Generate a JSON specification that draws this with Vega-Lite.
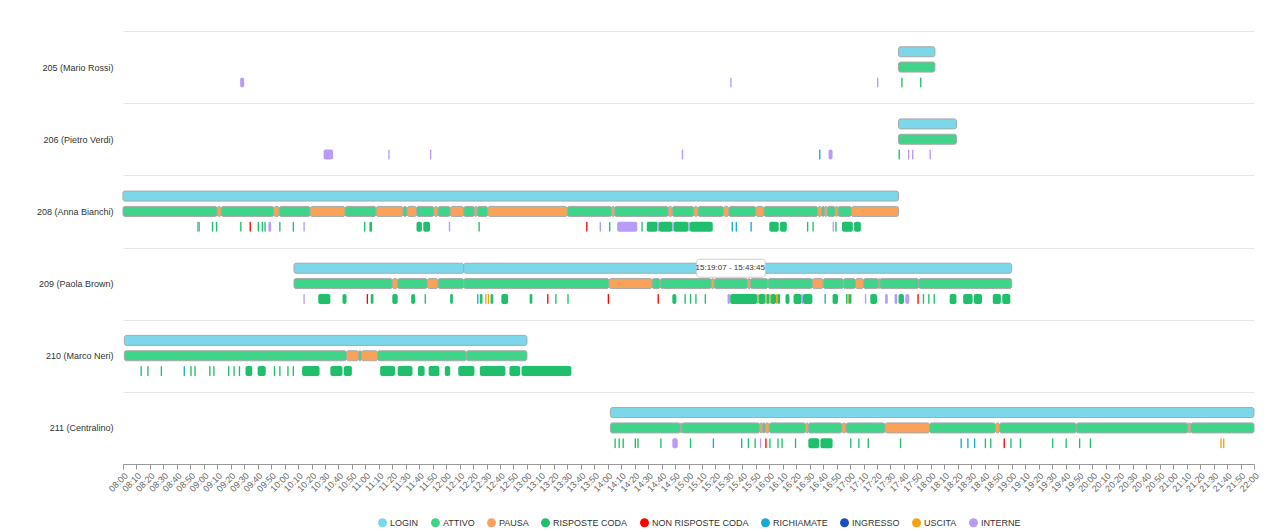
{
  "$schema": "https://vega.github.io/schema/vega-lite/v6.json",
  "autosize": "none",
  "width": 1131,
  "height": 433,
  "padding": {"left": 123, "top": 31, "right": 33, "bottom": 68},
  "background": "white",
  "config": {"font": "Liberation Sans", "view": {"stroke": null}},
  "datasets": {
    "timeline": [
      {"a":"205","l":"login","c":"LOGIN","s":"17:36","e":"18:03"},
      {"a":"205","l":"stato","c":"ATTIVO","s":"17:36","e":"18:03"},
      {"a":"205","l":"eventi","c":"INTERNE","s":"09:27","e":"09:30"},
      {"a":"205","l":"eventi","c":"INTERNE","s":"15:31","e":"15:32"},
      {"a":"205","l":"eventi","c":"INTERNE","s":"17:20","e":"17:21"},
      {"a":"205","l":"eventi","c":"RISPOSTE CODA","s":"17:38","e":"17:39"},
      {"a":"205","l":"eventi","c":"RISPOSTE CODA","s":"17:52","e":"17:53"},
      {"a":"206","l":"login","c":"LOGIN","s":"17:36","e":"18:19"},
      {"a":"206","l":"stato","c":"ATTIVO","s":"17:36","e":"18:19"},
      {"a":"206","l":"eventi","c":"INTERNE","s":"10:29","e":"10:36"},
      {"a":"206","l":"eventi","c":"INTERNE","s":"11:17","e":"11:18"},
      {"a":"206","l":"eventi","c":"INTERNE","s":"11:48","e":"11:49"},
      {"a":"206","l":"eventi","c":"INTERNE","s":"14:55","e":"14:56"},
      {"a":"206","l":"eventi","c":"RICHIAMATE","s":"16:37","e":"16:38"},
      {"a":"206","l":"eventi","c":"INTERNE","s":"16:44","e":"16:47"},
      {"a":"206","l":"eventi","c":"RISPOSTE CODA","s":"17:36","e":"17:37"},
      {"a":"206","l":"eventi","c":"INTERNE","s":"17:43","e":"17:44"},
      {"a":"206","l":"eventi","c":"INTERNE","s":"17:46","e":"17:47"},
      {"a":"206","l":"eventi","c":"INTERNE","s":"17:59","e":"18:00"},
      {"a":"208","l":"login","c":"LOGIN","s":"08:00","e":"17:36"},
      {"a":"208","l":"stato","c":"ATTIVO","s":"08:00","e":"09:10"},
      {"a":"208","l":"stato","c":"PAUSA","s":"09:10","e":"09:13"},
      {"a":"208","l":"stato","c":"ATTIVO","s":"09:13","e":"09:52"},
      {"a":"208","l":"stato","c":"PAUSA","s":"09:52","e":"09:56"},
      {"a":"208","l":"stato","c":"ATTIVO","s":"09:56","e":"10:19"},
      {"a":"208","l":"stato","c":"PAUSA","s":"10:19","e":"10:45"},
      {"a":"208","l":"stato","c":"ATTIVO","s":"10:45","e":"11:08"},
      {"a":"208","l":"stato","c":"PAUSA","s":"11:08","e":"11:28"},
      {"a":"208","l":"stato","c":"ATTIVO","s":"11:28","e":"11:31"},
      {"a":"208","l":"stato","c":"PAUSA","s":"11:31","e":"11:38"},
      {"a":"208","l":"stato","c":"ATTIVO","s":"11:38","e":"11:51"},
      {"a":"208","l":"stato","c":"PAUSA","s":"11:51","e":"11:54"},
      {"a":"208","l":"stato","c":"ATTIVO","s":"11:54","e":"12:03"},
      {"a":"208","l":"stato","c":"PAUSA","s":"12:03","e":"12:13"},
      {"a":"208","l":"stato","c":"ATTIVO","s":"12:13","e":"12:21"},
      {"a":"208","l":"stato","c":"PAUSA","s":"12:21","e":"12:23"},
      {"a":"208","l":"stato","c":"ATTIVO","s":"12:23","e":"12:31"},
      {"a":"208","l":"stato","c":"PAUSA","s":"12:31","e":"13:30"},
      {"a":"208","l":"stato","c":"ATTIVO","s":"13:30","e":"14:03"},
      {"a":"208","l":"stato","c":"PAUSA","s":"14:03","e":"14:05"},
      {"a":"208","l":"stato","c":"ATTIVO","s":"14:05","e":"14:45"},
      {"a":"208","l":"stato","c":"PAUSA","s":"14:45","e":"14:48"},
      {"a":"208","l":"stato","c":"ATTIVO","s":"14:48","e":"15:04"},
      {"a":"208","l":"stato","c":"PAUSA","s":"15:04","e":"15:07"},
      {"a":"208","l":"stato","c":"ATTIVO","s":"15:07","e":"15:26"},
      {"a":"208","l":"stato","c":"PAUSA","s":"15:26","e":"15:30"},
      {"a":"208","l":"stato","c":"ATTIVO","s":"15:30","e":"15:50"},
      {"a":"208","l":"stato","c":"PAUSA","s":"15:50","e":"15:56"},
      {"a":"208","l":"stato","c":"ATTIVO","s":"15:56","e":"16:36"},
      {"a":"208","l":"stato","c":"PAUSA","s":"16:36","e":"16:39"},
      {"a":"208","l":"stato","c":"ATTIVO","s":"16:39","e":"16:41"},
      {"a":"208","l":"stato","c":"PAUSA","s":"16:41","e":"16:43"},
      {"a":"208","l":"stato","c":"ATTIVO","s":"16:43","e":"16:49"},
      {"a":"208","l":"stato","c":"PAUSA","s":"16:49","e":"16:51"},
      {"a":"208","l":"stato","c":"ATTIVO","s":"16:51","e":"17:01"},
      {"a":"208","l":"stato","c":"PAUSA","s":"17:01","e":"17:36"},
      {"a":"208","l":"eventi","c":"INTERNE","s":"08:55","e":"08:56"},
      {"a":"208","l":"eventi","c":"RISPOSTE CODA","s":"08:56","e":"08:57"},
      {"a":"208","l":"eventi","c":"RISPOSTE CODA","s":"09:06","e":"09:07"},
      {"a":"208","l":"eventi","c":"RISPOSTE CODA","s":"09:09","e":"09:10"},
      {"a":"208","l":"eventi","c":"RISPOSTE CODA","s":"09:27","e":"09:28"},
      {"a":"208","l":"eventi","c":"NON RISPOSTE CODA","s":"09:34","e":"09:35"},
      {"a":"208","l":"eventi","c":"RISPOSTE CODA","s":"09:40","e":"09:41"},
      {"a":"208","l":"eventi","c":"RISPOSTE CODA","s":"09:43","e":"09:44"},
      {"a":"208","l":"eventi","c":"RISPOSTE CODA","s":"09:45","e":"09:46"},
      {"a":"208","l":"eventi","c":"INTERNE","s":"09:48","e":"09:50"},
      {"a":"208","l":"eventi","c":"RISPOSTE CODA","s":"09:56","e":"09:57"},
      {"a":"208","l":"eventi","c":"RISPOSTE CODA","s":"10:06","e":"10:07"},
      {"a":"208","l":"eventi","c":"INTERNE","s":"10:14","e":"10:15"},
      {"a":"208","l":"eventi","c":"RISPOSTE CODA","s":"10:59","e":"11:00"},
      {"a":"208","l":"eventi","c":"RISPOSTE CODA","s":"11:03","e":"11:05"},
      {"a":"208","l":"eventi","c":"RISPOSTE CODA","s":"11:38","e":"11:42"},
      {"a":"208","l":"eventi","c":"RISPOSTE CODA","s":"11:43","e":"11:48"},
      {"a":"208","l":"eventi","c":"INTERNE","s":"12:02","e":"12:03"},
      {"a":"208","l":"eventi","c":"RISPOSTE CODA","s":"12:24","e":"12:25"},
      {"a":"208","l":"eventi","c":"NON RISPOSTE CODA","s":"13:44","e":"13:45"},
      {"a":"208","l":"eventi","c":"INTERNE","s":"13:54","e":"13:55"},
      {"a":"208","l":"eventi","c":"RISPOSTE CODA","s":"14:01","e":"14:02"},
      {"a":"208","l":"eventi","c":"INTERNE","s":"14:07","e":"14:22"},
      {"a":"208","l":"eventi","c":"RISPOSTE CODA","s":"14:25","e":"14:26"},
      {"a":"208","l":"eventi","c":"RISPOSTE CODA","s":"14:29","e":"14:37"},
      {"a":"208","l":"eventi","c":"INTERNE","s":"14:37","e":"14:38"},
      {"a":"208","l":"eventi","c":"RISPOSTE CODA","s":"14:38","e":"14:48"},
      {"a":"208","l":"eventi","c":"INTERNE","s":"14:48","e":"14:49"},
      {"a":"208","l":"eventi","c":"RISPOSTE CODA","s":"14:49","e":"15:00"},
      {"a":"208","l":"eventi","c":"INTERNE","s":"15:00","e":"15:01"},
      {"a":"208","l":"eventi","c":"RISPOSTE CODA","s":"15:01","e":"15:18"},
      {"a":"208","l":"eventi","c":"RICHIAMATE","s":"15:32","e":"15:33"},
      {"a":"208","l":"eventi","c":"RICHIAMATE","s":"15:35","e":"15:36"},
      {"a":"208","l":"eventi","c":"RICHIAMATE","s":"15:46","e":"15:47"},
      {"a":"208","l":"eventi","c":"RISPOSTE CODA","s":"16:00","e":"16:07"},
      {"a":"208","l":"eventi","c":"RISPOSTE CODA","s":"16:08","e":"16:13"},
      {"a":"208","l":"eventi","c":"RISPOSTE CODA","s":"16:28","e":"16:29"},
      {"a":"208","l":"eventi","c":"RISPOSTE CODA","s":"16:32","e":"16:33"},
      {"a":"208","l":"eventi","c":"INTERNE","s":"16:47","e":"16:48"},
      {"a":"208","l":"eventi","c":"RISPOSTE CODA","s":"16:49","e":"16:50"},
      {"a":"208","l":"eventi","c":"RISPOSTE CODA","s":"16:54","e":"17:02"},
      {"a":"208","l":"eventi","c":"RISPOSTE CODA","s":"17:03","e":"17:08"},
      {"a":"209","l":"login","c":"LOGIN","s":"10:07","e":"12:13"},
      {"a":"209","l":"login","c":"LOGIN","s":"12:13","e":"19:00"},
      {"a":"209","l":"stato","c":"ATTIVO","s":"10:07","e":"11:20"},
      {"a":"209","l":"stato","c":"PAUSA","s":"11:20","e":"11:24"},
      {"a":"209","l":"stato","c":"ATTIVO","s":"11:24","e":"11:46"},
      {"a":"209","l":"stato","c":"PAUSA","s":"11:46","e":"11:54"},
      {"a":"209","l":"stato","c":"ATTIVO","s":"11:54","e":"12:13"},
      {"a":"209","l":"stato","c":"ATTIVO","s":"12:13","e":"14:01"},
      {"a":"209","l":"stato","c":"PAUSA","s":"14:01","e":"14:33"},
      {"a":"209","l":"stato","c":"ATTIVO","s":"14:33","e":"14:39"},
      {"a":"209","l":"stato","c":"ATTIVO","s":"14:39","e":"15:17"},
      {"a":"209","l":"stato","c":"PAUSA","s":"15:17","e":"15:19"},
      {"a":"209","l":"stato","c":"ATTIVO","s":"15:19","e":"15:44"},
      {"a":"209","l":"stato","c":"PAUSA","s":"15:44","e":"15:46"},
      {"a":"209","l":"stato","c":"ATTIVO","s":"15:46","e":"15:59"},
      {"a":"209","l":"stato","c":"ATTIVO","s":"15:59","e":"16:32"},
      {"a":"209","l":"stato","c":"PAUSA","s":"16:32","e":"16:40"},
      {"a":"209","l":"stato","c":"ATTIVO","s":"16:40","e":"16:55"},
      {"a":"209","l":"stato","c":"ATTIVO","s":"16:55","e":"17:04"},
      {"a":"209","l":"stato","c":"PAUSA","s":"17:04","e":"17:10"},
      {"a":"209","l":"stato","c":"ATTIVO","s":"17:10","e":"17:21"},
      {"a":"209","l":"stato","c":"PAUSA","s":"17:21","e":"17:22"},
      {"a":"209","l":"stato","c":"ATTIVO","s":"17:22","e":"17:51"},
      {"a":"209","l":"stato","c":"ATTIVO","s":"17:51","e":"19:00"},
      {"a":"209","l":"eventi","c":"INTERNE","s":"10:14","e":"10:15"},
      {"a":"209","l":"eventi","c":"RISPOSTE CODA","s":"10:25","e":"10:34"},
      {"a":"209","l":"eventi","c":"RISPOSTE CODA","s":"10:43","e":"10:46"},
      {"a":"209","l":"eventi","c":"NON RISPOSTE CODA","s":"11:01","e":"11:02"},
      {"a":"209","l":"eventi","c":"RISPOSTE CODA","s":"11:04","e":"11:06"},
      {"a":"209","l":"eventi","c":"RISPOSTE CODA","s":"11:20","e":"11:24"},
      {"a":"209","l":"eventi","c":"RISPOSTE CODA","s":"11:34","e":"11:37"},
      {"a":"209","l":"eventi","c":"RISPOSTE CODA","s":"11:44","e":"11:45"},
      {"a":"209","l":"eventi","c":"RISPOSTE CODA","s":"12:03","e":"12:05"},
      {"a":"209","l":"eventi","c":"RICHIAMATE","s":"12:23","e":"12:24"},
      {"a":"209","l":"eventi","c":"RISPOSTE CODA","s":"12:25","e":"12:27"},
      {"a":"209","l":"eventi","c":"USCITA","s":"12:29","e":"12:30"},
      {"a":"209","l":"eventi","c":"USCITA","s":"12:31","e":"12:32"},
      {"a":"209","l":"eventi","c":"RISPOSTE CODA","s":"12:33","e":"12:35"},
      {"a":"209","l":"eventi","c":"RISPOSTE CODA","s":"12:41","e":"12:46"},
      {"a":"209","l":"eventi","c":"RISPOSTE CODA","s":"13:02","e":"13:04"},
      {"a":"209","l":"eventi","c":"NON RISPOSTE CODA","s":"13:15","e":"13:16"},
      {"a":"209","l":"eventi","c":"RISPOSTE CODA","s":"13:21","e":"13:22"},
      {"a":"209","l":"eventi","c":"RISPOSTE CODA","s":"13:30","e":"13:31"},
      {"a":"209","l":"eventi","c":"NON RISPOSTE CODA","s":"14:00","e":"14:01"},
      {"a":"209","l":"eventi","c":"NON RISPOSTE CODA","s":"14:37","e":"14:38"},
      {"a":"209","l":"eventi","c":"RISPOSTE CODA","s":"14:48","e":"14:51"},
      {"a":"209","l":"eventi","c":"RISPOSTE CODA","s":"14:57","e":"14:58"},
      {"a":"209","l":"eventi","c":"RISPOSTE CODA","s":"15:01","e":"15:02"},
      {"a":"209","l":"eventi","c":"RISPOSTE CODA","s":"15:05","e":"15:06"},
      {"a":"209","l":"eventi","c":"RISPOSTE CODA","s":"15:12","e":"15:13"},
      {"a":"209","l":"eventi","c":"INTERNE","s":"15:29","e":"15:31"},
      {"a":"209","l":"eventi","c":"RISPOSTE CODA","s":"15:31","e":"15:51"},
      {"a":"209","l":"eventi","c":"USCITA","s":"15:51","e":"15:52"},
      {"a":"209","l":"eventi","c":"RISPOSTE CODA","s":"15:52","e":"15:57"},
      {"a":"209","l":"eventi","c":"USCITA","s":"15:57","e":"15:58"},
      {"a":"209","l":"eventi","c":"RISPOSTE CODA","s":"15:58","e":"16:00"},
      {"a":"209","l":"eventi","c":"USCITA","s":"16:00","e":"16:01"},
      {"a":"209","l":"eventi","c":"RISPOSTE CODA","s":"16:01","e":"16:05"},
      {"a":"209","l":"eventi","c":"USCITA","s":"16:05","e":"16:06"},
      {"a":"209","l":"eventi","c":"RISPOSTE CODA","s":"16:06","e":"16:08"},
      {"a":"209","l":"eventi","c":"RISPOSTE CODA","s":"16:12","e":"16:15"},
      {"a":"209","l":"eventi","c":"RISPOSTE CODA","s":"16:18","e":"16:24"},
      {"a":"209","l":"eventi","c":"INTERNE","s":"16:24","e":"16:25"},
      {"a":"209","l":"eventi","c":"RISPOSTE CODA","s":"16:25","e":"16:32"},
      {"a":"209","l":"eventi","c":"RICHIAMATE","s":"16:41","e":"16:42"},
      {"a":"209","l":"eventi","c":"RISPOSTE CODA","s":"16:47","e":"16:51"},
      {"a":"209","l":"eventi","c":"RISPOSTE CODA","s":"16:57","e":"16:58"},
      {"a":"209","l":"eventi","c":"USCITA","s":"16:58","e":"16:59"},
      {"a":"209","l":"eventi","c":"RISPOSTE CODA","s":"16:59","e":"17:01"},
      {"a":"209","l":"eventi","c":"INTERNE","s":"17:11","e":"17:12"},
      {"a":"209","l":"eventi","c":"RISPOSTE CODA","s":"17:15","e":"17:20"},
      {"a":"209","l":"eventi","c":"INTERNE","s":"17:26","e":"17:28"},
      {"a":"209","l":"eventi","c":"INTERNE","s":"17:33","e":"17:35"},
      {"a":"209","l":"eventi","c":"RISPOSTE CODA","s":"17:36","e":"17:40"},
      {"a":"209","l":"eventi","c":"INTERNE","s":"17:41","e":"17:44"},
      {"a":"209","l":"eventi","c":"NON RISPOSTE CODA","s":"17:50","e":"17:51"},
      {"a":"209","l":"eventi","c":"RISPOSTE CODA","s":"17:54","e":"17:55"},
      {"a":"209","l":"eventi","c":"RISPOSTE CODA","s":"17:58","e":"17:59"},
      {"a":"209","l":"eventi","c":"RISPOSTE CODA","s":"18:02","e":"18:03"},
      {"a":"209","l":"eventi","c":"RISPOSTE CODA","s":"18:14","e":"18:19"},
      {"a":"209","l":"eventi","c":"RISPOSTE CODA","s":"18:24","e":"18:31"},
      {"a":"209","l":"eventi","c":"RISPOSTE CODA","s":"18:32","e":"18:38"},
      {"a":"209","l":"eventi","c":"RISPOSTE CODA","s":"18:46","e":"18:52"},
      {"a":"209","l":"eventi","c":"RISPOSTE CODA","s":"18:53","e":"18:59"},
      {"a":"210","l":"login","c":"LOGIN","s":"08:01","e":"13:00"},
      {"a":"210","l":"stato","c":"ATTIVO","s":"08:01","e":"10:46"},
      {"a":"210","l":"stato","c":"PAUSA","s":"10:46","e":"10:55"},
      {"a":"210","l":"stato","c":"ATTIVO","s":"10:55","e":"10:57"},
      {"a":"210","l":"stato","c":"PAUSA","s":"10:57","e":"11:09"},
      {"a":"210","l":"stato","c":"ATTIVO","s":"11:09","e":"12:15"},
      {"a":"210","l":"stato","c":"ATTIVO","s":"12:15","e":"13:00"},
      {"a":"210","l":"eventi","c":"RISPOSTE CODA","s":"08:13","e":"08:14"},
      {"a":"210","l":"eventi","c":"RISPOSTE CODA","s":"08:18","e":"08:19"},
      {"a":"210","l":"eventi","c":"RISPOSTE CODA","s":"08:28","e":"08:29"},
      {"a":"210","l":"eventi","c":"RICHIAMATE","s":"08:45","e":"08:46"},
      {"a":"210","l":"eventi","c":"RISPOSTE CODA","s":"08:50","e":"08:51"},
      {"a":"210","l":"eventi","c":"RISPOSTE CODA","s":"08:53","e":"08:54"},
      {"a":"210","l":"eventi","c":"RISPOSTE CODA","s":"09:04","e":"09:05"},
      {"a":"210","l":"eventi","c":"RISPOSTE CODA","s":"09:07","e":"09:08"},
      {"a":"210","l":"eventi","c":"RISPOSTE CODA","s":"09:18","e":"09:19"},
      {"a":"210","l":"eventi","c":"RISPOSTE CODA","s":"09:22","e":"09:23"},
      {"a":"210","l":"eventi","c":"RISPOSTE CODA","s":"09:26","e":"09:27"},
      {"a":"210","l":"eventi","c":"RISPOSTE CODA","s":"09:31","e":"09:36"},
      {"a":"210","l":"eventi","c":"RISPOSTE CODA","s":"09:40","e":"09:46"},
      {"a":"210","l":"eventi","c":"RISPOSTE CODA","s":"09:52","e":"09:53"},
      {"a":"210","l":"eventi","c":"RISPOSTE CODA","s":"09:56","e":"09:57"},
      {"a":"210","l":"eventi","c":"RISPOSTE CODA","s":"10:02","e":"10:03"},
      {"a":"210","l":"eventi","c":"RISPOSTE CODA","s":"10:06","e":"10:07"},
      {"a":"210","l":"eventi","c":"RISPOSTE CODA","s":"10:13","e":"10:26"},
      {"a":"210","l":"eventi","c":"RISPOSTE CODA","s":"10:34","e":"10:43"},
      {"a":"210","l":"eventi","c":"RISPOSTE CODA","s":"10:44","e":"10:50"},
      {"a":"210","l":"eventi","c":"RISPOSTE CODA","s":"11:11","e":"11:22"},
      {"a":"210","l":"eventi","c":"RISPOSTE CODA","s":"11:24","e":"11:35"},
      {"a":"210","l":"eventi","c":"RISPOSTE CODA","s":"11:39","e":"11:44"},
      {"a":"210","l":"eventi","c":"RISPOSTE CODA","s":"11:47","e":"11:55"},
      {"a":"210","l":"eventi","c":"RISPOSTE CODA","s":"11:59","e":"12:03"},
      {"a":"210","l":"eventi","c":"RISPOSTE CODA","s":"12:09","e":"12:21"},
      {"a":"210","l":"eventi","c":"RISPOSTE CODA","s":"12:25","e":"12:44"},
      {"a":"210","l":"eventi","c":"RISPOSTE CODA","s":"12:47","e":"12:55"},
      {"a":"210","l":"eventi","c":"RISPOSTE CODA","s":"12:56","e":"13:33"},
      {"a":"211","l":"login","c":"LOGIN","s":"14:02","e":"22:00"},
      {"a":"211","l":"stato","c":"ATTIVO","s":"14:02","e":"14:54"},
      {"a":"211","l":"stato","c":"PAUSA","s":"14:54","e":"14:55"},
      {"a":"211","l":"stato","c":"ATTIVO","s":"14:55","e":"15:53"},
      {"a":"211","l":"stato","c":"PAUSA","s":"15:53","e":"15:55"},
      {"a":"211","l":"stato","c":"ATTIVO","s":"15:55","e":"15:57"},
      {"a":"211","l":"stato","c":"PAUSA","s":"15:57","e":"16:00"},
      {"a":"211","l":"stato","c":"ATTIVO","s":"16:00","e":"16:27"},
      {"a":"211","l":"stato","c":"PAUSA","s":"16:27","e":"16:29"},
      {"a":"211","l":"stato","c":"ATTIVO","s":"16:29","e":"16:54"},
      {"a":"211","l":"stato","c":"PAUSA","s":"16:54","e":"16:57"},
      {"a":"211","l":"stato","c":"ATTIVO","s":"16:57","e":"17:26"},
      {"a":"211","l":"stato","c":"PAUSA","s":"17:26","e":"17:59"},
      {"a":"211","l":"stato","c":"ATTIVO","s":"17:59","e":"18:48"},
      {"a":"211","l":"stato","c":"PAUSA","s":"18:48","e":"18:51"},
      {"a":"211","l":"stato","c":"ATTIVO","s":"18:51","e":"19:48"},
      {"a":"211","l":"stato","c":"ATTIVO","s":"19:48","e":"21:11"},
      {"a":"211","l":"stato","c":"PAUSA","s":"21:11","e":"21:13"},
      {"a":"211","l":"stato","c":"ATTIVO","s":"21:13","e":"22:00"},
      {"a":"211","l":"eventi","c":"RISPOSTE CODA","s":"14:05","e":"14:06"},
      {"a":"211","l":"eventi","c":"RISPOSTE CODA","s":"14:08","e":"14:09"},
      {"a":"211","l":"eventi","c":"RISPOSTE CODA","s":"14:11","e":"14:12"},
      {"a":"211","l":"eventi","c":"RISPOSTE CODA","s":"14:20","e":"14:21"},
      {"a":"211","l":"eventi","c":"RISPOSTE CODA","s":"14:22","e":"14:23"},
      {"a":"211","l":"eventi","c":"RISPOSTE CODA","s":"14:39","e":"14:40"},
      {"a":"211","l":"eventi","c":"INTERNE","s":"14:48","e":"14:52"},
      {"a":"211","l":"eventi","c":"RISPOSTE CODA","s":"15:01","e":"15:02"},
      {"a":"211","l":"eventi","c":"RICHIAMATE","s":"15:18","e":"15:19"},
      {"a":"211","l":"eventi","c":"RICHIAMATE","s":"15:39","e":"15:40"},
      {"a":"211","l":"eventi","c":"RISPOSTE CODA","s":"15:44","e":"15:45"},
      {"a":"211","l":"eventi","c":"RISPOSTE CODA","s":"15:49","e":"15:50"},
      {"a":"211","l":"eventi","c":"INTERNE","s":"15:53","e":"15:54"},
      {"a":"211","l":"eventi","c":"NON RISPOSTE CODA","s":"15:57","e":"15:58"},
      {"a":"211","l":"eventi","c":"RISPOSTE CODA","s":"16:00","e":"16:01"},
      {"a":"211","l":"eventi","c":"RISPOSTE CODA","s":"16:06","e":"16:07"},
      {"a":"211","l":"eventi","c":"RISPOSTE CODA","s":"16:09","e":"16:10"},
      {"a":"211","l":"eventi","c":"RISPOSTE CODA","s":"16:19","e":"16:20"},
      {"a":"211","l":"eventi","c":"RISPOSTE CODA","s":"16:29","e":"16:37"},
      {"a":"211","l":"eventi","c":"RISPOSTE CODA","s":"16:38","e":"16:47"},
      {"a":"211","l":"eventi","c":"RISPOSTE CODA","s":"17:00","e":"17:01"},
      {"a":"211","l":"eventi","c":"RISPOSTE CODA","s":"17:06","e":"17:07"},
      {"a":"211","l":"eventi","c":"RISPOSTE CODA","s":"17:13","e":"17:14"},
      {"a":"211","l":"eventi","c":"RISPOSTE CODA","s":"17:37","e":"17:38"},
      {"a":"211","l":"eventi","c":"RICHIAMATE","s":"18:22","e":"18:23"},
      {"a":"211","l":"eventi","c":"RICHIAMATE","s":"18:27","e":"18:28"},
      {"a":"211","l":"eventi","c":"RICHIAMATE","s":"18:32","e":"18:33"},
      {"a":"211","l":"eventi","c":"RISPOSTE CODA","s":"18:40","e":"18:41"},
      {"a":"211","l":"eventi","c":"RISPOSTE CODA","s":"18:44","e":"18:45"},
      {"a":"211","l":"eventi","c":"NON RISPOSTE CODA","s":"18:54","e":"18:55"},
      {"a":"211","l":"eventi","c":"RISPOSTE CODA","s":"18:59","e":"19:00"},
      {"a":"211","l":"eventi","c":"RISPOSTE CODA","s":"19:06","e":"19:07"},
      {"a":"211","l":"eventi","c":"RISPOSTE CODA","s":"19:30","e":"19:31"},
      {"a":"211","l":"eventi","c":"RISPOSTE CODA","s":"19:40","e":"19:41"},
      {"a":"211","l":"eventi","c":"RISPOSTE CODA","s":"19:50","e":"19:51"},
      {"a":"211","l":"eventi","c":"RISPOSTE CODA","s":"19:58","e":"19:59"},
      {"a":"211","l":"eventi","c":"USCITA","s":"21:35","e":"21:36"},
      {"a":"211","l":"eventi","c":"USCITA","s":"21:37","e":"21:38"}
    ],
    "tipbox": [
      {"a":"209","l":"login","s":"15:06","e":"15:57"}
    ],
    "tiptext": [
      {"a":"209","l":"login","t":"15:31","label":"15:19:07 - 15:43:45"}
    ]
  },
  "encoding": {
    "y": {
      "field": "a", "type": "nominal", "title": null,
      "scale": {"domain": ["205","206","208","209","210","211"], "paddingInner": 0, "paddingOuter": 0},
      "axis": {
        "domain": false, "ticks": false, "grid": true, "tickBand": "extent",
        "gridColor": "#e6e6e6",
        "labelFontSize": 9, "labelColor": "#333333", "labelPadding": 10,
        "labelExpr": "datum.value == '205' ? '205 (Mario Rossi)' : datum.value == '206' ? '206 (Pietro Verdi)' : datum.value == '208' ? '208 (Anna Bianchi)' : datum.value == '209' ? '209 (Paola Brown)' : datum.value == '210' ? '210 (Marco Neri)' : datum.value == '211' ? '211 (Centralino)' : ''"
      }
    },
    "yOffset": {
      "field": "l", "type": "nominal",
      "scale": {"domain": ["login","stato","eventi"], "paddingInner": 0.3, "paddingOuter": 1.13}
    }
  },
  "layer": [
    {
      "data": {"name": "timeline", "format": {"parse": {"s": "date:'%H:%M'", "e": "date:'%H:%M'"}}},
      "mark": {"type": "bar", "height": 10, "cornerRadius": 2, "strokeWidth": 1},
      "encoding": {
        "x": {
          "field": "s", "type": "temporal", "title": null,
          "scale": {"domain": [{"year":1900,"month":1,"date":1,"hours":8},{"year":1900,"month":1,"date":1,"hours":22}], "nice": false},
          "axis": {
            "format": "%H:%M", "tickCount": {"interval": "minutes", "step": 10},
            "labelAngle": -45, "labelFontSize": 9, "labelColor": "#666666", "labelOverlap": false,
            "labelPadding": 2,
            "domainColor": "#999999", "tickColor": "#999999", "tickSize": 5, "grid": false
          }
        },
        "x2": {"field": "e"},
        "color": {
          "field": "c", "type": "nominal", "title": null,
          "scale": {
            "domain": ["LOGIN","ATTIVO","PAUSA","RISPOSTE CODA","NON RISPOSTE CODA","RICHIAMATE","INGRESSO","USCITA","INTERNE"],
            "range": ["#7cd7ea","#40d48b","#fba25a","#1fbf6c","#ff0000","#18a9d8","#1a4fc4","#f5a30f","#b89cf7"]
          },
          "legend": {
            "orient": "none", "direction": "horizontal", "legendX": 255, "legendY": 487,
            "symbolType": "circle", "symbolSize": 80, "symbolStrokeWidth": 0,
            "labelFontSize": 9, "labelColor": "#333333", "columnPadding": 12, "labelOffset": 3
          }
        },
        "stroke": {
          "field": "l", "type": "nominal",
          "scale": {"domain": ["login","stato","eventi"], "range": ["#a8a8a8","#a8a8a8","transparent"]},
          "legend": null
        }
      }
    },
    {
      "data": {"name": "tipbox", "format": {"parse": {"s": "date:'%H:%M'", "e": "date:'%H:%M'"}}},
      "mark": {"type": "bar", "height": 18, "fill": "white", "stroke": "#cccccc", "strokeWidth": 1, "cornerRadius": 3},
      "encoding": {
        "x": {"field": "s", "type": "temporal"},
        "x2": {"field": "e"}
      }
    },
    {
      "data": {"name": "tiptext", "format": {"parse": {"t": "date:'%H:%M'"}}},
      "mark": {"type": "text", "fontSize": 8, "color": "#333333", "align": "center", "baseline": "middle"},
      "encoding": {
        "x": {"field": "t", "type": "temporal"},
        "text": {"field": "label"}
      }
    }
  ]
}
